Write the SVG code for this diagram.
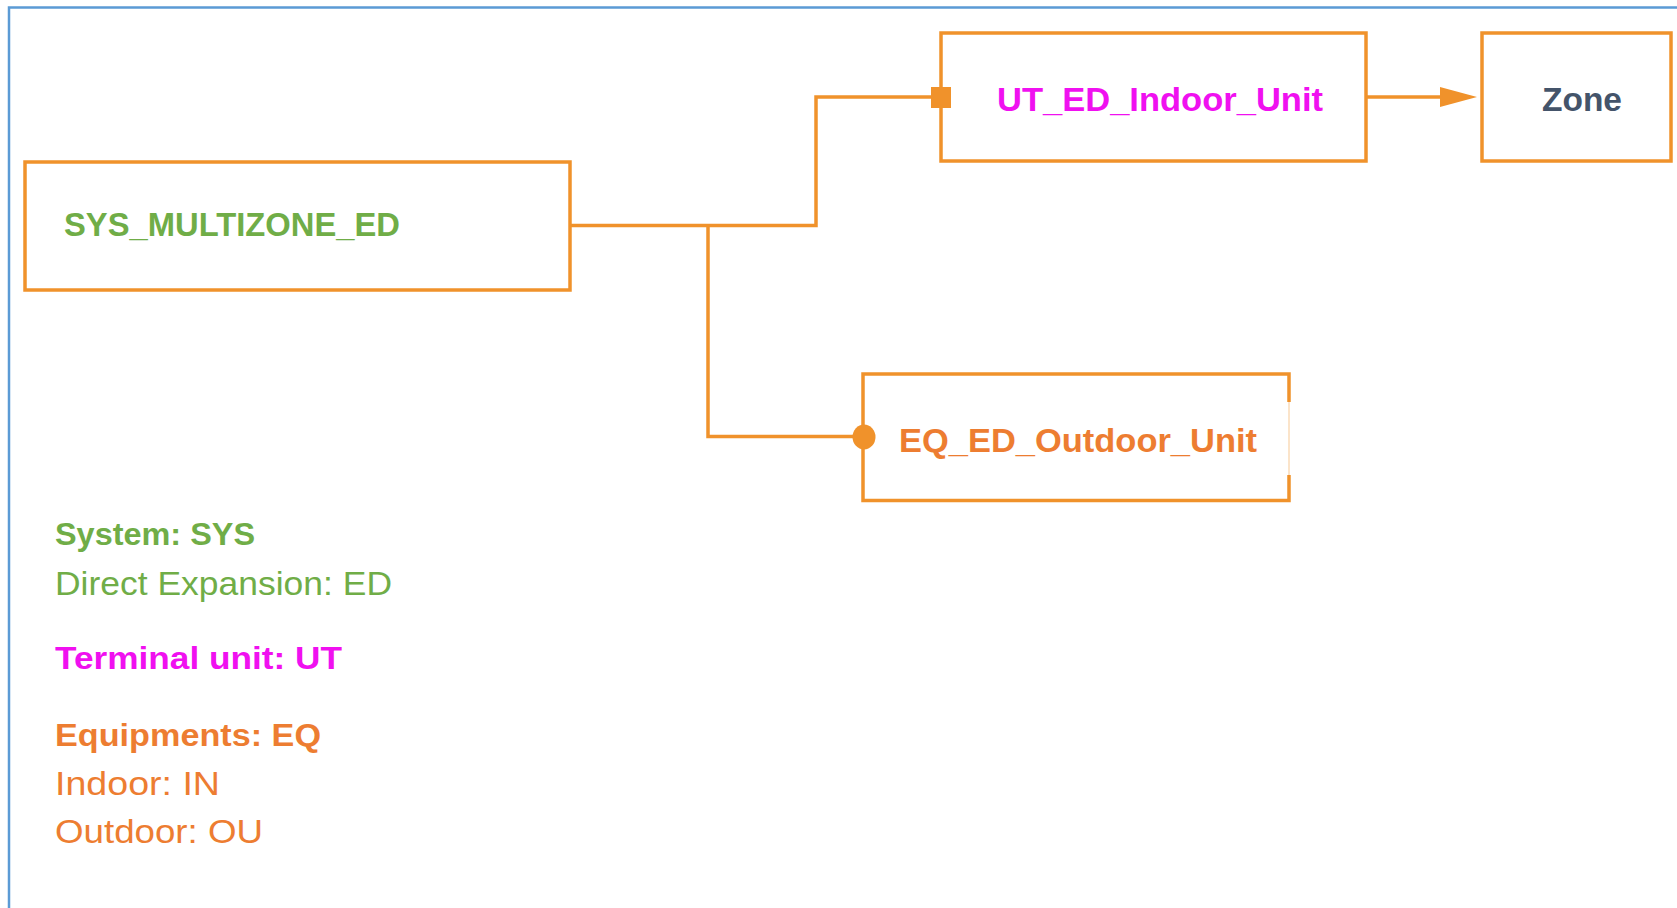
<svg xmlns="http://www.w3.org/2000/svg" width="1677" height="908" viewBox="0 0 1677 908">
<defs>
<style>
.box{fill:#fff;stroke:#F0922B;stroke-width:3.5}
.wire{fill:none;stroke:#F0922B;stroke-width:3.5}
.t{font-family:"Liberation Sans",Arial,sans-serif}
.b{font-weight:bold}
.green{fill:#70AD47}
.mag{fill:#F010F0}
.org{fill:#ED7D31}
</style>
</defs>
<rect width="1677" height="908" fill="#fff"/>
<rect x="9" y="7.5" width="1690" height="920" fill="none" stroke="#5B9BD5" stroke-width="2.5"/>
<g id="connectors">
<polyline class="wire" points="570,225.5 816,225.5 816,97 941,97"/>
<polyline class="wire" points="708,225.5 708,436.5 863,436.5"/>
<line x1="1366" y1="97" x2="1442" y2="97" class="wire"/>
<path d="M1440,87 L1477,97 L1440,107 Z" fill="#F0922B"/>
</g>
<g id="sys">
<rect class="box" x="25" y="162" width="545" height="128"/>
<text class="t b green" x="64" y="236" font-size="34" textLength="336" lengthAdjust="spacingAndGlyphs">SYS_MULTIZONE_ED</text>
</g>
<g id="indoor">
<rect class="box" x="941" y="33" width="425" height="128"/>
<rect x="931" y="87" width="20" height="21" fill="#F0922B"/>
<text class="t b mag" x="997" y="111" font-size="34" textLength="326" lengthAdjust="spacingAndGlyphs">UT_ED_Indoor_Unit</text>
</g>
<g id="zone">
<rect class="box" x="1482" y="33" width="189" height="128"/>
<text class="t b" fill="#44546A" x="1582" y="111" font-size="34" text-anchor="middle" textLength="80" lengthAdjust="spacingAndGlyphs">Zone</text>
</g>
<g id="outdoor">
<path class="box" d="M1289,402 L1289,374 L863,374 L863,500.5 L1289,500.5 L1289,475"/>
<line x1="1289" y1="402" x2="1289" y2="475" stroke="#F0922B" stroke-opacity="0.25" stroke-width="2"/>
<ellipse cx="864" cy="437" rx="11.5" ry="12.5" fill="#F0922B"/>
<text class="t b org" x="899" y="452" font-size="34" textLength="358" lengthAdjust="spacingAndGlyphs">EQ_ED_Outdoor_Unit</text>
</g>
<g id="legend">
<text class="t b green" x="55" y="545" font-size="32" textLength="200" lengthAdjust="spacingAndGlyphs">System: SYS</text>
<text class="t green" x="55" y="595" font-size="33" textLength="337" lengthAdjust="spacingAndGlyphs">Direct Expansion: ED</text>
<text class="t b mag" x="55" y="669" font-size="32" textLength="287" lengthAdjust="spacingAndGlyphs">Terminal unit: UT</text>
<text class="t b org" x="55" y="746" font-size="32" textLength="266" lengthAdjust="spacingAndGlyphs">Equipments: EQ</text>
<text class="t org" x="55" y="795" font-size="33" textLength="165" lengthAdjust="spacingAndGlyphs">Indoor: IN</text>
<text class="t org" x="55" y="843" font-size="33" textLength="208" lengthAdjust="spacingAndGlyphs">Outdoor: OU</text>
</g>
</svg>
